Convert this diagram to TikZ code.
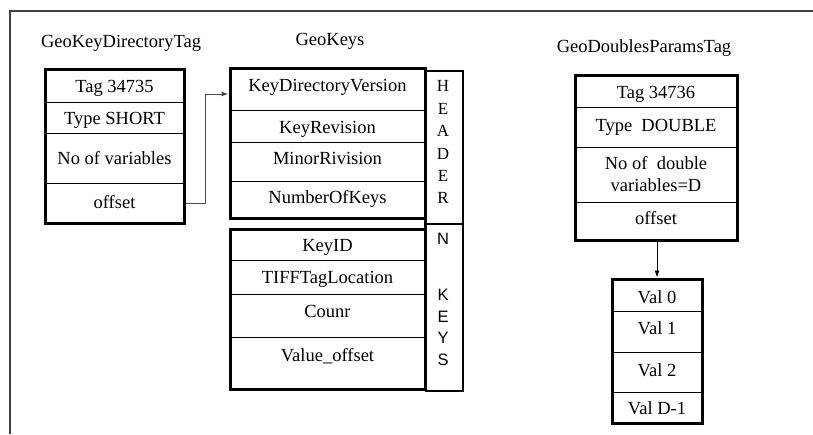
\documentclass[tikz,border=0pt]{standalone}
\usepackage{fontspec}
\setmainfont{Liberation Serif}
\newfontfamily\sansf{Liberation Sans}
\usetikzlibrary{arrows.meta,fit}
\tikzset{
  cell/.style={draw, line width=0.9pt, inner sep=0pt, anchor=north west},
  outer/.style={draw, line width=3pt, inner sep=0pt},
  txt/.style={font=\fontsize{18.5}{21}\selectfont, inner sep=0pt, anchor=base},
  hdr/.style={font=\fontsize{17}{20}\selectfont, inner sep=0pt, anchor=base},
  sansl/.style={font=\sansf\fontsize{16.5}{20}\selectfont, inner sep=0pt, anchor=base},
  conn/.style={line width=0.9pt, -{Latex[length=7pt,width=5pt]}},
}
\begin{document}
\begin{tikzpicture}[x={(1pt,0)}, y={(0,-1pt)}]
\useasboundingbox (0,0) rectangle (813,434);
% outer frame
\coordinate (fr) at (813,11);
\coordinate (fc) at (10,11);
\coordinate (fb) at (10,434);
\draw[line width=1.2pt, black!75] (fr) -- (fc) -- (fb);

% titles
\node[txt] (t1) at (121,47) {GeoKeyDirectoryTag};
\node[txt] (t2) at (330,45) {GeoKeys};
\node[txt] (t3) at (644,52) {GeoDoublesParamsTag};

% side column
\node[cell, line width=2pt, minimum width=37pt, minimum height=153pt] (colh) at (425,70) {};
\node[cell, line width=2pt, minimum width=37pt, minimum height=167pt] (colk) at (425,223) {};
\foreach \l/\y [count=\i] in {H/91,E/114,A/136,D/159,E/181,R/203}
  \node[hdr] (h\i) at (443,\y) {\l};
\node[sansl] (kn) at (443,244) {N};
\foreach \l/\y [count=\i] in {K/300,E/322,Y/343,S/365}
  \node[sansl] (k\i) at (443,\y) {\l};
\coordinate (cl1) at (425,68);
\coordinate (cl2) at (425,390);
\draw[line width=3pt] (cl1) -- (cl2);

% box 1
\node[cell, minimum width=139pt, minimum height=33pt] (a1) at (45,69) {};
\node[cell, minimum width=139pt, minimum height=31pt] (a2) at (45,102) {};
\node[cell, minimum width=139pt, minimum height=50pt] (a3) at (45,133) {};
\node[cell, minimum width=139pt, minimum height=40pt] (a4) at (45,183) {};
\node[outer, fit=(a1)(a4)] (A) {};
\node[txt] (ta1) at (114.5,92) {Tag 34735};
\node[txt] (ta2) at (114.5,124) {Type SHORT};
\node[txt] (ta3) at (114.5,164) {No of variables};
\node[txt] (ta4) at (114.5,208) {offset};

% box 2 (header)
\node[cell, minimum width=195pt, minimum height=42pt] (b1) at (230,68) {};
\node[cell, minimum width=195pt, minimum height=32pt] (b2) at (230,110) {};
\node[cell, minimum width=195pt, minimum height=39pt] (b3) at (230,142) {};
\node[cell, minimum width=195pt, minimum height=37pt] (b4) at (230,181) {};
\node[outer, fit=(b1)(b4)] (B) {};
\node[txt] (tb1) at (327.5,91) {KeyDirectoryVersion};
\node[txt] (tb2) at (327.5,133) {KeyRevision};
\node[txt] (tb3) at (327.5,164) {MinorRivision};
\node[txt] (tb4) at (327.5,203) {NumberOfKeys};

% box 3 (keys)
\node[cell, minimum width=195pt, minimum height=31pt] (c1) at (230,229) {};
\node[cell, minimum width=195pt, minimum height=34pt] (c2) at (230,260) {};
\node[cell, minimum width=195pt, minimum height=43pt] (c3) at (230,294) {};
\node[cell, minimum width=195pt, minimum height=52pt] (c4) at (230,337) {};
\node[outer, fit=(c1)(c4)] (C) {};
\node[txt] (tc1) at (327.5,251) {KeyID};
\node[txt] (tc2) at (327.5,283) {TIFFTagLocation};
\node[txt] (tc3) at (327.5,317) {Counr};
\node[txt] (tc4) at (327.5,361) {Value\_offset};

% box 4
\node[cell, minimum width=162pt, minimum height=32pt] (d1) at (575,75) {};
\node[cell, minimum width=162pt, minimum height=40pt] (d2) at (575,107) {};
\node[cell, minimum width=162pt, minimum height=55pt] (d3) at (575,147) {};
\node[cell, minimum width=162pt, minimum height=38pt] (d4) at (575,202) {};
\node[outer, fit=(d1)(d4)] (D) {};
\node[txt] (td1) at (656,98) {Tag 34736};
\node[txt] (td2) at (656,131) {Type\ \ DOUBLE};
\node[txt] (td3) at (656,169) {No of\ \ double};
\node[txt] (td3b) at (656,191) {variables=D};
\node[txt] (td4) at (656,224) {offset};

% box 5
\node[cell, minimum width=90pt, minimum height=32pt] (e1) at (612,279) {};
\node[cell, minimum width=90pt, minimum height=41pt] (e2) at (612,311) {};
\node[cell, minimum width=90pt, minimum height=40pt] (e3) at (612,352) {};
\node[cell, minimum width=90pt, minimum height=31pt] (e4) at (612,392) {};
\node[outer, fit=(e1)(e4)] (E) {};
\node[txt] (te1) at (657,303) {Val 0};
\node[txt] (te2) at (657,334) {Val 1};
\node[txt] (te3) at (657,376) {Val 2};
\node[txt] (te4) at (657,414) {Val D-1};

% connectors
\coordinate (bend1) at (205,203);
\coordinate (bend2) at (205,94);
\draw[conn, draw=black!70] (A.east |- bend1) -- (bend1) -- (bend2) -- (B.west |- bend2);
\draw[conn] (D.south -| te1) -- (E.north -| te1);
\end{tikzpicture}
\end{document}
